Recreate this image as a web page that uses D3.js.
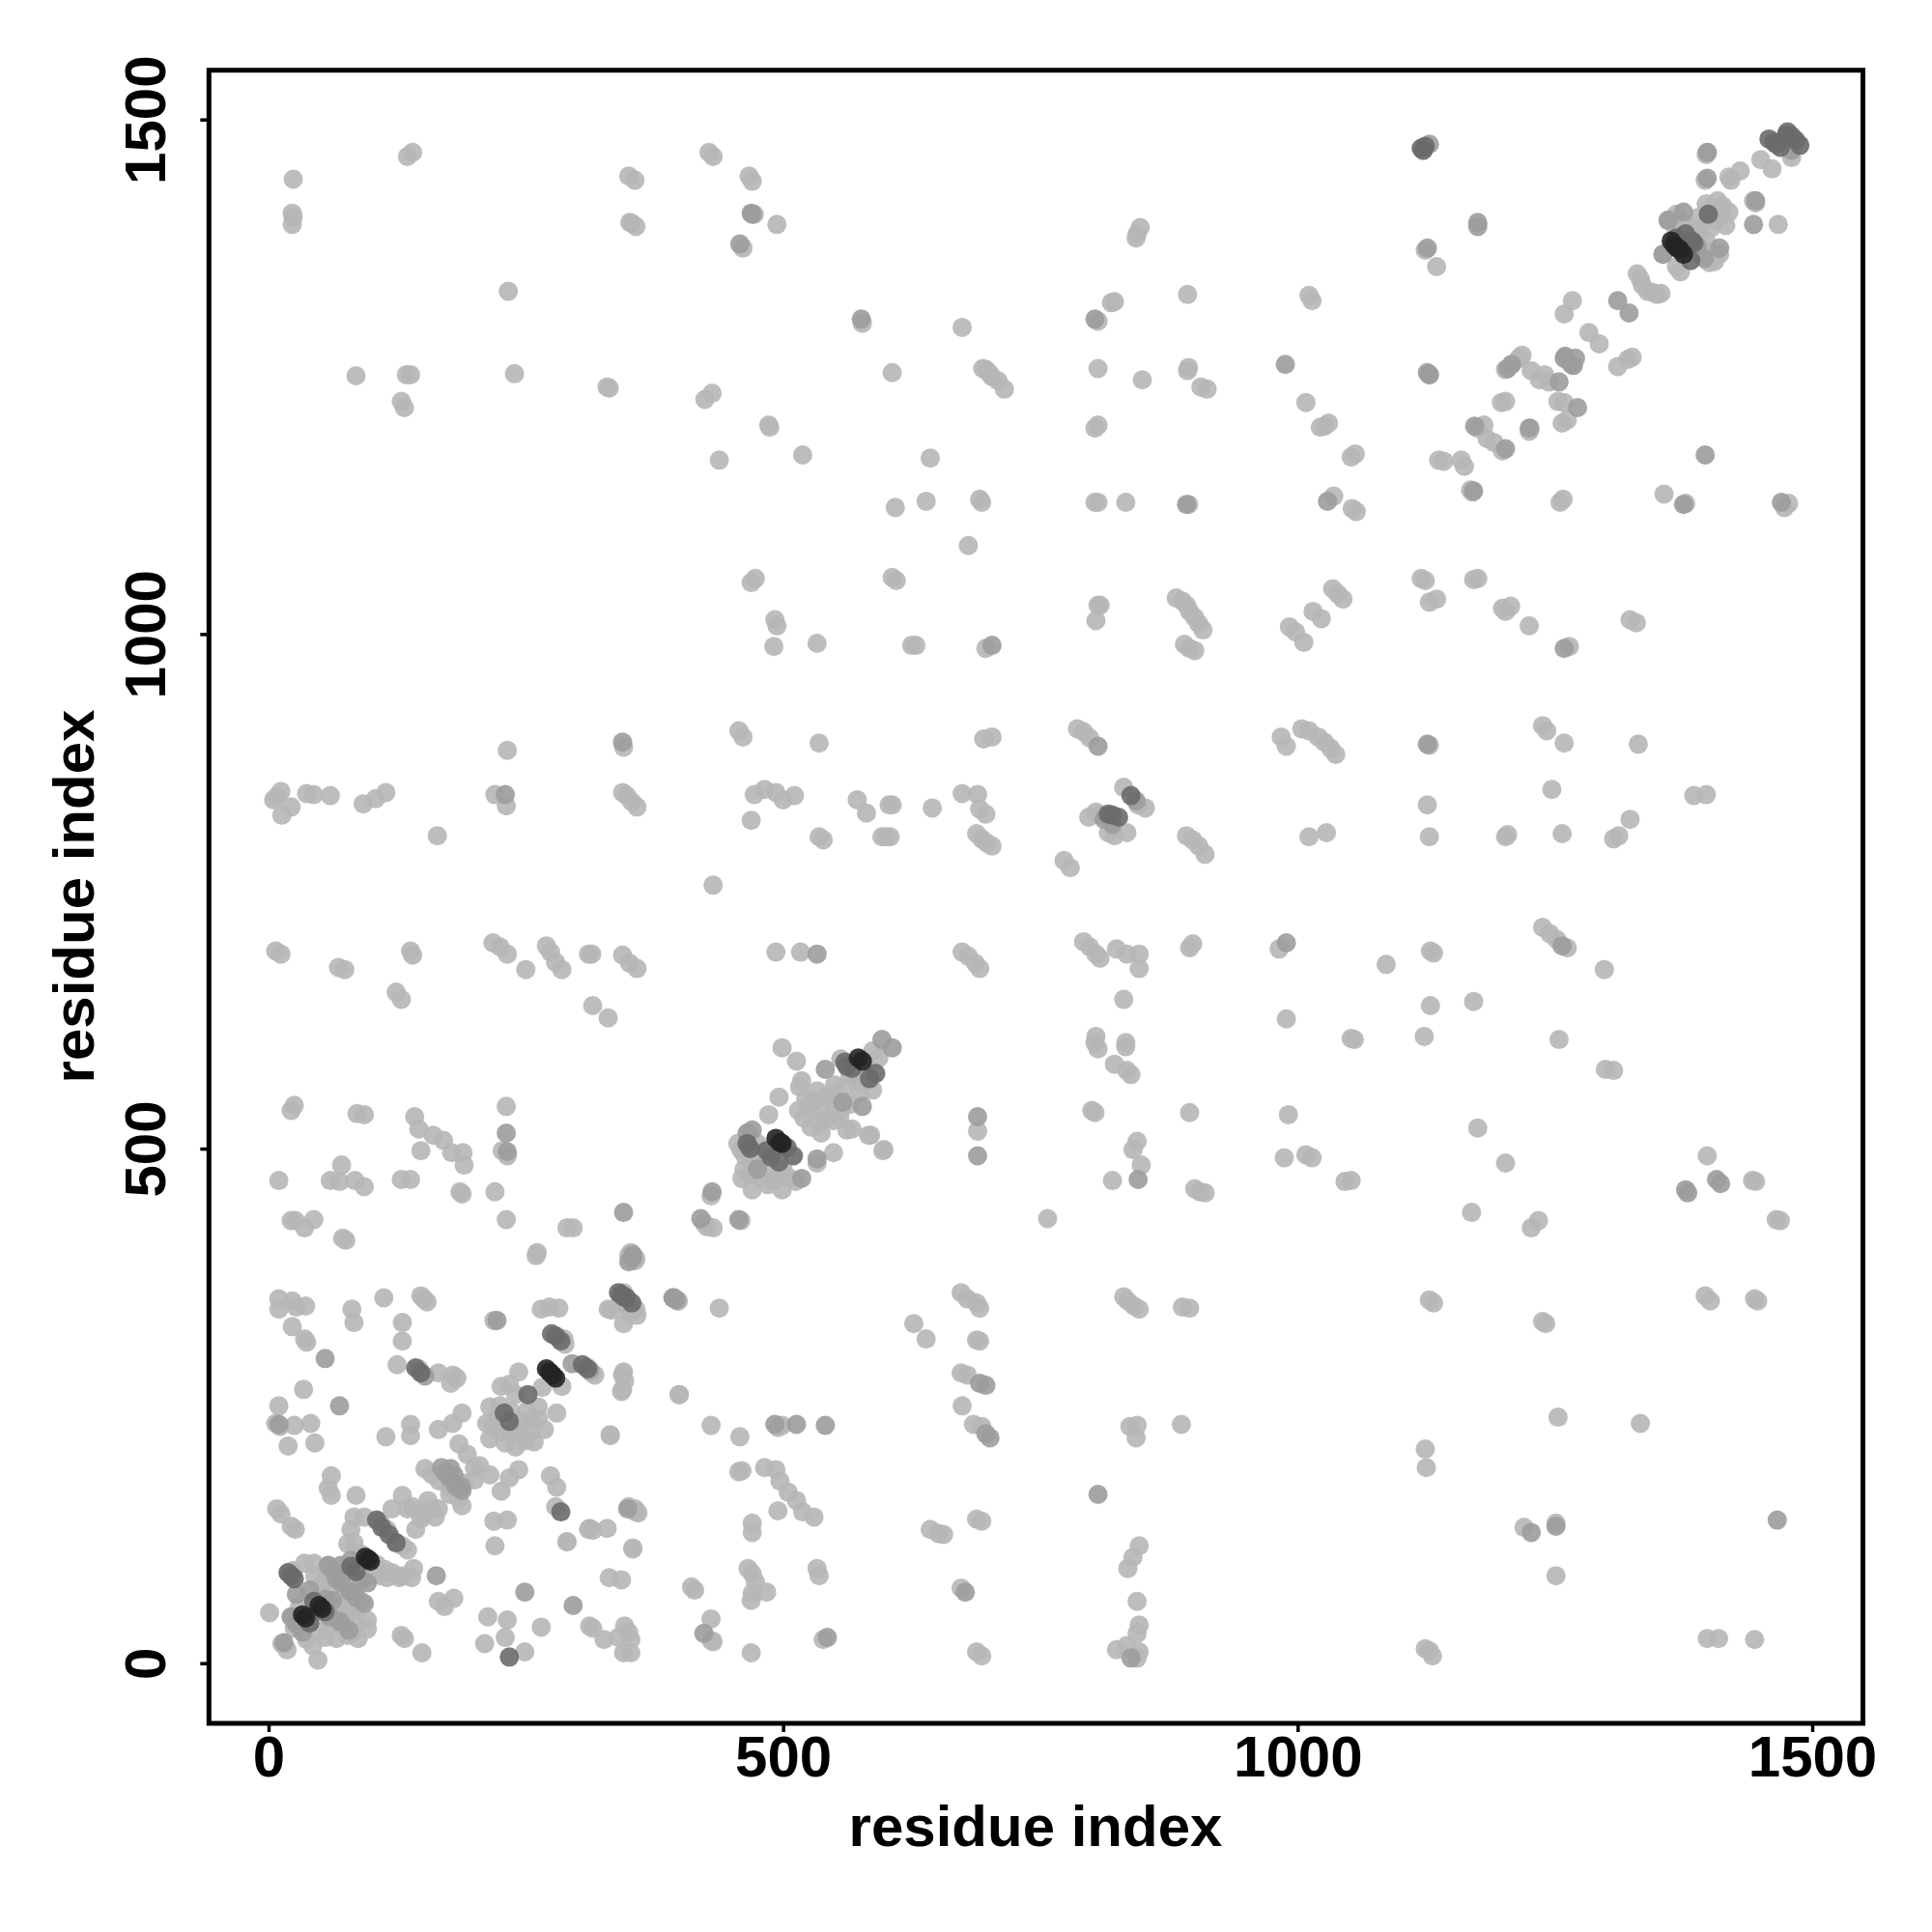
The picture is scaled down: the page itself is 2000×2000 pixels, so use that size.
<!DOCTYPE html>
<html><head><meta charset="utf-8">
<script src="https://cdn.jsdelivr.net/npm/d3@7"></script>
<style>html,body{margin:0;background:#fff}svg{display:block}text{font-family:"Liberation Sans",Arial,sans-serif;font-weight:bold}</style>
</head><body><svg id="c" width="2000" height="2000"></svg>
<script>
const xTicks=[0,500,1000,1500];
const yTicks=[0,500,1000,1500];
const xTitle="residue index", yTitle="residue index";
// contact strength classes: very strong / strong / medium / weak
const veryStrong=[[94,103],[97,101],[99,99],[49,56],[52,53],[33,47],[36,44],[270,286],[273,283],[276,280],[279,277],[493,510],[497,506],[499,505],[573,588],[577,585],[1363,1382],[1366,1378],[1369,1375],[1371,1374],[1375,1369]];
const strong=[[80,94],[85,89],[44,60],[55,50],[40,39],[279,318],[284,313],[1476,1488],[1484,1480],[1463,1478],[252,261],[229,243],[234,235],[343,358],[348,355],[353,350],[284,147],[504,501],[510,493],[484,498],[496,487],[1382,1363],[1377,1389],[1383,1382],[1399,1408],[816,825],[820,824],[826,822],[838,843],[234,6],[1120,1472],[1124,1474],[1475,1485],[1488,1475],[562,580],[590,573],[105,139],[110,132],[117,125],[124,117],[275,320],[305,290],[310,286],[143,287],[148,282],[340,360],[345,356],[1368,1385],[1385,1380],[1465,1476],[1469,1473],[1458,1481],[19,88],[22,85],[25,82],[1480,1484],[1122,1470],[560,584],[567,578],[584,568],[488,492],[465,505],[468,500]];
const medium=[[177,189],[180,183],[187,172],[27,67],[90,81],[96,78],[40,71],[62,61],[274,282],[295,291],[312,285],[470,518],[541,577],[577,541],[596,606],[606,598],[518,471],[1388,1377],[1375,1410],[1410,1375],[1443,1398],[1272,1220],[1260,1270],[1268,1261],[1123,1473],[1128,1476],[1322,1312],[1311,1324],[576,1306],[803,1306],[892,1126],[988,1262],[1126,1254],[533,689],[703,989],[989,700],[806,891],[1126,893],[1259,986],[1259,1268],[1266,1262],[1257,697],[231,515],[230,844],[344,895],[458,1379],[469,1409],[1029,1129],[1377,460],[845,470],[689,531],[689,493],[541,231],[513,232],[492,232],[345,438],[420,432],[457,431],[431,458],[354,397],[343,358],[394,355],[691,272],[697,270],[697,223],[701,219],[249,69],[163,85],[69,250],[55,296],[222,333],[152,279],[349,150],[296,56],[838,5],[423,29],[543,25],[677,69],[806,164],[1227,127],[1251,133],[1466,139],[1126,1375],[1470,1128],[1375,1126],[1407,470],[1411,466],[1396,1174],[1175,1396],[1398,1443],[1379,457],[1202,1180],[1171,1139],[58,95],[63,90],[66,82],[71,78],[79,70],[85,64],[93,58],[22,45],[27,38],[33,30],[50,50],[60,45],[70,40],[78,32],[168,190],[172,185],[176,180],[182,172],[188,168],[393,355],[396,353],[1128,1252],[1254,1245],[1204,1258],[1208,1262],[1225,1200],[1172,1202],[1270,1268],[1360,1402],[1355,1369],[1395,1365],[1480,1470],[533,490],[558,545],[465,515],[475,480],[1398,1468],[820,815],[812,820],[843,838],[1445,1421],[80,100],[70,95],[55,62],[15,20],[350,390],[354,394],[10,232],[232,497],[470,1408],[1175,1400]];
const leftLower=[[10,354],[10,344],[23,352],[27,346],[36,347],[23,327],[35,315],[37,312],[81,344],[83,331],[112,355],[148,357],[151,354],[154,351],[130,331],[130,313],[219,333],[260,396],[356,391],[350,396],[265,344],[273,346],[282,345],[357,344],[330,344],[345,330],[393,355],[398,352],[288,310],[287,315],[285,269],[125,290],[309,288],[317,280],[345,283],[346,274],[343,264],[399,261],[332,222],[146,286],[165,282],[179,280],[183,277],[177,272],[266,268],[243,283],[226,269],[234,271],[240,261],[262,249],[280,243],[268,227],[251,245],[215,249],[212,233],[218,230],[215,218],[240,227],[230,214],[249,216],[240,210],[255,225],[188,243],[179,233],[165,227],[185,213],[193,203],[205,192],[215,183],[234,180],[243,188],[226,167],[190,175],[166,177],[159,183],[152,189],[176,164],[188,153],[138,232],[138,221],[114,220],[34,266],[10,250],[7,233],[11,230],[25,231],[41,233],[45,214],[19,211],[61,182],[58,170],[61,163],[85,163],[8,150],[12,145],[26,130],[22,133],[219,138],[232,139],[220,114],[274,182],[280,171],[279,152],[356,150],[359,146],[312,131],[329,131],[290,118],[354,112],[331,83],[343,81],[312,36],[315,34],[326,23],[346,36],[352,23],[345,10],[352,10],[265,35],[213,45],[232,42],[230,25],[210,19],[249,11],[129,27],[132,24],[149,10],[165,60],[171,55],[180,63],[130,163],[140,152],[143,130],[162,142],[155,158],[150,145],[108,138],[115,130],[124,117],[135,110],[130,114],[141,92],[127,83],[115,83],[139,83],[83,142],[93,142],[80,130],[83,117],[77,116],[90,106],[105,96],[113,91],[19,88],[22,85],[35,97],[44,97],[58,95],[63,86],[71,81],[79,64],[88,61],[96,42],[96,33],[87,24],[77,27],[66,24],[71,36],[80,50],[60,40],[68,44],[22,45],[25,34],[37,23],[43,17],[1,49],[13,19],[18,13],[48,3],[49,31],[30,55],[27,40],[55,25],[82,30],[24,90],[62,75],[75,72],[225,250],[235,245],[245,235],[255,235],[225,225],[235,222],[245,222],[222,240],[258,215],[262,238],[200,190],[200,178],[158,150],[165,150],[148,140],[135,150],[120,150],[175,172],[185,160],[68,55],[76,50],[85,45],[90,60],[50,75],[55,80],[45,85],[100,85],[108,85],[120,88],[130,85]];
const leftMid=[[22,537],[25,542],[86,534],[93,533],[142,531],[146,519],[160,513],[170,508],[148,498],[178,496],[189,496],[190,484],[231,541],[227,498],[232,493],[10,469],[71,484],[60,469],[69,468],[84,469],[93,463],[129,470],[138,470],[186,458],[188,456],[220,458],[22,430],[26,430],[44,431],[35,423],[72,413],[75,411],[231,431],[290,423],[296,423],[261,399],[345,360],[343,352],[347,348],[438,345],[351,341],[333,343],[358,338],[430,454],[423,428],[426,424],[432,423],[459,430],[352,399],[357,393],[398,352],[344,280],[344,266],[314,282],[399,261],[332,221],[430,231],[458,220],[495,229],[499,231],[457,186],[460,187],[482,190],[493,188],[497,177],[505,166],[513,158],[495,148],[519,147],[530,142],[350,152],[357,147],[311,130],[315,129],[290,118],[354,111],[470,136],[470,127],[466,92],[470,87],[473,79],[484,69],[470,68],[469,61],[411,74],[414,71],[533,92],[535,85],[430,43],[430,22],[432,21],[469,10],[539,23],[350,30],[340,25]];
const centre=[[499,598],[513,585],[518,566],[516,560],[496,550],[486,533],[466,515],[459,499],[463,493],[470,487],[460,471],[470,460],[485,465],[499,460],[490,468],[512,468],[533,486],[549,496],[598,499],[585,513],[562,518],[567,519],[537,515],[527,521],[515,537],[520,530],[530,546],[537,537],[543,530],[549,527],[556,537],[546,552],[559,559],[565,543],[556,587],[570,571],[587,557],[581,577],[576,563],[593,588],[587,595],[555,530],[550,545],[540,550],[525,540],[535,525],[583,513],[597,498],[475,505],[480,490],[456,505],[500,480],[490,475],[522,548],[533,556],[565,570],[575,555],[550,562],[505,472],[478,472],[468,475],[462,480]];
const middleRows=[[5,839],[12,847],[22,832],[13,824],[8,842],[37,845],[44,844],[60,843],[92,835],[104,840],[114,846],[220,844],[231,833],[344,846],[348,843],[353,837],[358,832],[469,819],[472,844],[482,849],[493,846],[500,839],[511,843],[572,839],[581,826],[603,834],[606,834],[645,831],[674,845],[689,844],[691,830],[697,825],[535,803],[539,800],[596,803],[604,803],[600,803],[688,806],[693,801],[698,797],[703,794],[797,822],[804,827],[808,824],[816,807],[822,804],[834,807],[831,851],[845,834],[852,831],[892,804],[898,800],[904,794],[910,786],[1011,803],[1028,807],[1126,834],[1128,803],[1202,803],[1204,805],[1247,849],[1257,806],[1307,801],[1312,804],[1323,820],[1385,843],[1397,844],[164,804],[773,780],[779,773],[432,756],[7,692],[12,689],[68,676],[74,674],[138,692],[140,688],[124,652],[129,645],[218,700],[225,696],[232,689],[250,674],[270,697],[274,691],[279,681],[285,674],[311,689],[314,689],[315,639],[330,627],[344,688],[351,680],[358,675],[493,691],[517,691],[674,691],[680,687],[687,680],[691,675],[792,701],[798,696],[804,689],[808,685],[824,694],[834,689],[846,689],[846,675],[831,645],[895,695],[898,699],[982,694],[1086,679],[1129,692],[1132,690],[1129,639],[1123,609],[1171,643],[989,626],[1052,607],[1055,606],[1238,715],[1245,709],[1252,703],[1262,695],[1298,674],[1254,606],[1299,577],[1307,576],[803,603],[806,597],[804,609],[833,603],[833,599],[822,582],[834,576],[838,572],[800,537],[803,535],[844,507],[840,499],[848,484],[820,469],[689,517],[757,432],[895,535],[900,461],[905,458],[910,457],[991,533],[987,491],[1008,494],[1014,491],[1046,468],[1052,469],[1175,520],[1202,486],[1169,438],[1227,423],[1234,430],[1398,493],[1442,469],[1445,468],[1465,431],[1469,430],[627,330],[639,315],[673,360],[679,354],[688,350],[691,345],[688,314],[691,313],[673,282],[679,280],[674,250],[685,232],[693,230],[831,356],[835,352],[841,347],[846,344],[888,346],[895,345],[1128,353],[1132,350],[1238,332],[1241,330],[1396,357],[1401,352],[1444,354],[1447,352],[837,230],[844,231],[843,219],[887,232],[1124,208],[1125,190],[1253,239],[1333,233],[643,130],[651,126],[656,125],[688,140],[693,138],[1220,132],[1251,136],[846,114],[840,103],[835,92],[1251,85],[673,73],[844,60],[846,37],[844,29],[824,13],[834,17],[846,11],[844,5],[688,11],[693,7],[1124,14],[1128,12],[1131,7],[1398,24],[1409,24],[1444,23]];
const upperRows=[[135,1464],[140,1468],[24,1442],[350,1445],[356,1441],[428,1468],[432,1464],[467,1445],[470,1440],[1397,1466],[24,1405],[23,1398],[23,1409],[353,1399],[357,1396],[351,1400],[472,1408],[461,1375],[494,1398],[233,1333],[893,1330],[85,1251],[239,1253],[134,1252],[138,1252],[129,1226],[132,1220],[329,1240],[331,1239],[424,1228],[431,1234],[438,1169],[486,1203],[487,1201],[519,1174],[577,1302],[674,1298],[606,1254],[694,1258],[697,1257],[700,1254],[703,1250],[709,1246],[715,1238],[643,1171],[609,1123],[639,1129],[691,1131],[693,1128],[680,1086],[806,1304],[819,1322],[822,1323],[806,1258],[803,1200],[806,1203],[849,1247],[803,1128],[806,1128],[833,1128],[894,1126],[894,1259],[893,1256],[906,1240],[912,1238],[1011,1329],[1014,1324],[1008,1225],[1026,1202],[1022,1201],[1030,1205],[1052,1172],[1056,1175],[1035,1134],[1053,1122],[1057,1119],[844,1389],[847,1395],[843,1385],[1124,1373],[1135,1357],[1128,1252],[1137,1169],[1142,1168],[1159,1169],[1162,1163],[1168,1140],[1170,1138],[1175,1200],[1181,1203],[1184,1190],[1191,1186],[1199,1178],[1198,1225],[1202,1226],[1202,1257],[1208,1262],[1218,1271],[1227,1256],[1235,1247],[1226,1200],[1225,1197],[1253,1226],[1259,1225],[1257,1205],[1262,1208],[1262,1266],[1259,1311],[1267,1324],[1283,1293],[1293,1282],[1311,1260],[1325,1269],[1321,1267],[1330,1350],[1335,1339],[1345,1332],[1353,1331],[1355,1369],[1368,1357],[1360,1402],[1368,1408],[1366,1397],[1391,1391],[1397,1382],[1400,1361],[1410,1369],[1404,1369],[1397,1418],[1408,1421],[1419,1410],[1416,1397],[1410,1406],[1404,1414],[1406,1402],[1413,1416],[1443,1421],[1445,1419],[1467,1398],[1398,1468],[1419,1444],[1421,1441],[1450,1461],[1461,1452],[1480,1463],[1356,1136],[1377,1127],[1473,1123],[1477,1127],[1255,1128],[1258,1131],[1396,1441],[1430,1450],[1375,1400],[1385,1395],[1390,1405],[1402,1395],[1412,1412],[1395,1372],[1405,1362],[1372,1352],[1390,1385],[1244,1245],[1240,1252],[1215,1268],[1333,1345],[1340,1333],[1349,1330]];
const thousandRows=[[469,1050],[473,1054],[492,1014],[494,1008],[491,988],[533,991],[625,989],[629,989],[606,1055],[610,1052],[697,986],[806,1028],[808,1028],[804,1013],[882,1035],[888,1032],[892,1028],[895,1022],[900,1016],[904,1010],[908,1004],[890,990],[895,986],[900,984],[992,1007],[998,1002],[1006,992],[1015,1022],[1023,1015],[1034,1044],[1039,1039],[1044,1034],[1120,1054],[1124,1052],[1128,1031],[1135,1034],[1171,1053],[1175,1054],[1199,1025],[1207,1027],[1202,1022],[1225,1008],[1264,988],[1323,1014],[1329,1011],[345,890],[232,887],[457,906],[461,900],[535,894],[695,898],[703,900],[786,908],[792,905],[798,899],[984,900],[989,891],[1004,908],[1011,906],[1020,900],[1026,895],[1032,889],[1037,883],[1128,892],[1238,911],[1242,906],[1259,894],[1331,893]];
const allGroups=[
  {rows:leftLower,s:0},{rows:leftMid,s:0},{rows:centre,s:0},{rows:middleRows,s:0},{rows:upperRows,s:0},{rows:thousandRows,s:0},
  {rows:medium,s:1},{rows:strong,s:2},{rows:veryStrong,s:3}];

const svg=d3.select("#c");
const x=d3.scaleLinear().domain([0,1500]).range([278,1876]);
const y=d3.scaleLinear().domain([0,1500]).range([1721.7,123.7]);
const shade=d3.scaleLinear().domain([0,1,2,3]).range(["#b6b6b6","#9c9c9c","#6a6a6a","#242424"]);

allGroups.forEach(g=>{
  svg.append("g").selectAll("circle").data(g.rows).join("circle")
    .attr("cx",d=>x(d[0])).attr("cy",d=>y(d[1])).attr("r",10)
    .attr("fill",shade(g.s)).attr("fill-opacity",0.9);
});

svg.append("rect").attr("x",216.3).attr("y",72.7).attr("width",1712.2).attr("height",1711.3)
  .attr("fill","none").attr("stroke","#000").attr("stroke-width",5);

const ax=svg.append("g").attr("transform","translate(0,1784)").call(d3.axisBottom(x).tickValues(xTicks).tickFormat(d3.format("d")).tickSize(9).tickPadding(2));
ax.select(".domain").remove();
ax.selectAll("line").attr("stroke","#000").attr("stroke-width",3.5);
ax.selectAll("text").attr("font-size",60).attr("fill","#000").attr("y",0).attr("dy",0).attr("transform","translate(0,55)");

const ay=svg.append("g").attr("transform","translate(216.3,0)").call(d3.axisLeft(y).tickValues(yTicks).tickFormat(d3.format("d")).tickSize(9));
ay.select(".domain").remove();
ay.selectAll("line").attr("stroke","#000").attr("stroke-width",3.5);
ay.selectAll("text").attr("font-size",60).attr("fill","#000").attr("x",0).attr("y",0).attr("dy",0)
  .attr("text-anchor","middle").attr("transform","translate(-45.5,0) rotate(-90)");

svg.append("text").attr("x",1072).attr("y",1911).attr("text-anchor","middle").attr("font-size",60).text(xTitle);
svg.append("text").attr("transform","translate(97,928) rotate(-90)").attr("text-anchor","middle").attr("font-size",60).text(yTitle);
</script></body></html>
